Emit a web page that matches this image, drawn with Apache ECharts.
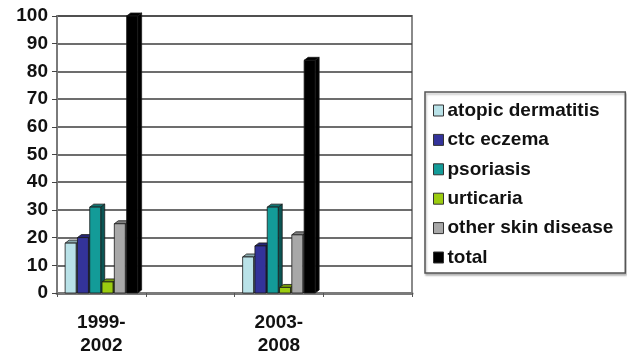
<!DOCTYPE html>
<html>
<head>
<meta charset="utf-8">
<style>
  html, body { margin: 0; padding: 0; background: #fff; }
  #chart { width: 627px; height: 353px; }
</style>
<script src="https://cdn.jsdelivr.net/npm/echarts@6/dist/echarts.min.js"></script>
</head>
<body>
<div id="chart"></div>
<script>
// Study periods; each is followed by an empty slot on the category axis
const periods = ['1999-2002', '2003-2008'];

// Series names and values per period
const seriesNames = ['atopic dermatitis', 'ctc eczema', 'psoriasis', 'urticaria', 'other skin disease', 'total'];
const atopicDermatitis = [18, 13];
const ctcEczema = [20, 17];
const psoriasis = [31, 31];
const urticaria = [4, 2];
const otherSkinDisease = [25, 21];
const total = [100, 84];

const yTicks = [0, 10, 20, 30, 40, 50, 60, 70, 80, 90, 100];

const seriesValues = [atopicDermatitis, ctcEczema, psoriasis, urticaria, otherSkinDisease, total];
const colors = ['#b9e2e8', '#33339a', '#139b98', '#9bcc10', '#a8a8a8', '#000000'];

// Category axis: period, blank, period, blank
const axisCategories = [];
periods.forEach(p => { axisCategories.push(p); axisCategories.push(''); });

function shade(hex, f) {
  const n = parseInt(hex.slice(1), 16);
  const r = Math.round(((n >> 16) & 255) * f);
  const g = Math.round(((n >> 8) & 255) * f);
  const b = Math.round((n & 255) * f);
  return 'rgb(' + r + ',' + g + ',' + b + ')';
}

const STEP = 12.3, W = 11, DX = 4, DY = 3;
const FONT = 'Liberation Sans, Arial, sans-serif';

// Column with a shallow side and top face
function make3dRenderer(idx, color) {
  return function (params, api) {
    const cat = api.value(0), val = api.value(1);
    const base = api.coord([cat, 0]);
    const top = api.coord([cat, val]);
    const x0 = base[0] + (idx - 2.5) * STEP - W / 2;
    const x1 = x0 + W;
    const yb = base[1], yt = top[1];
    const edge = { stroke: '#1a1a1a', lineWidth: 0.8 };
    return {
      type: 'group',
      children: [
        { type: 'polygon', shape: { points: [[x1, yb], [x1 + DX, yb - DY], [x1 + DX, yt - DY], [x1, yt]] },
          style: Object.assign({ fill: shade(color, 0.55) }, edge) },
        { type: 'polygon', shape: { points: [[x0, yt], [x0 + DX, yt - DY], [x1 + DX, yt - DY], [x1, yt]] },
          style: Object.assign({ fill: shade(color, 0.75) }, edge) },
        { type: 'rect', shape: { x: x0, y: yt, width: W, height: yb - yt },
          style: Object.assign({ fill: color }, edge) }
      ]
    };
  };
}

const series = seriesNames.map((name, i) => ({
  name: name,
  type: 'custom',
  renderItem: make3dRenderer(i, colors[i]),
  itemStyle: { color: colors[i], borderColor: '#222', borderWidth: 1 },
  encode: { x: 0, y: 1 },
  data: seriesValues[i].map((v, k) => [k * 2, v]),
  z: 2 + i
}));

const chart = echarts.init(document.getElementById('chart'));
chart.setOption({
  animation: false,
  backgroundColor: '#ffffff',
  grid: {
    left: 57, right: 215, top: 16, bottom: 60,
    outerBoundsMode: 'none', containLabel: false,
    show: true, borderColor: '#8a8a8a', borderWidth: 2, backgroundColor: 'transparent'
  },
  legend: {
    orient: 'vertical',
    left: 425,
    top: 92,
    padding: [9, 12, 6, 8],
    itemGap: 10.4,
    itemWidth: 10,
    itemHeight: 11,
    icon: 'rect',
    borderColor: '#555',
    borderWidth: 1.5,
    shadowColor: 'rgba(0,0,0,0.25)',
    shadowOffsetX: 1, shadowOffsetY: 2, shadowBlur: 2,
    backgroundColor: '#fff',
    textStyle: { fontFamily: FONT, fontWeight: 'bold', fontSize: 19, lineHeight: 18, color: '#111', padding: [0, 0, 0, -1] },
    data: seriesNames.map((n, i) => ({ name: n, itemStyle: { color: colors[i], borderColor: '#333', borderWidth: 1 } }))
  },
  xAxis: {
    type: 'category',
    data: axisCategories,
    boundaryGap: true,
    axisLine: { lineStyle: { color: '#7a7a7a', width: 3 } },
    axisTick: { show: true, alignWithLabel: false, length: 4, lineStyle: { color: '#555' } },
    axisLabel: {
      interval: 0,
      margin: 18,
      lineHeight: 23,
      fontFamily: FONT,
      fontWeight: 'bold',
      fontSize: 19,
      color: '#111',
      formatter: v => v.replace('-', '-\n')
    },
    splitLine: { show: false }
  },
  yAxis: {
    type: 'value',
    min: yTicks[0],
    max: yTicks[yTicks.length - 1],
    interval: 10,
    axisLine: { show: true, lineStyle: { color: '#7a7a7a', width: 2 } },
    axisTick: { show: true, length: 5, lineStyle: { color: '#444' } },
    axisLabel: {
      margin: 9,
      fontFamily: FONT,
      fontWeight: 'bold',
      fontSize: 19,
      color: '#111'
    },
    splitLine: { show: true, lineStyle: { color: '#3c3c3c', width: 1.5 } }
  },
  series: series
});
</script>
</body>
</html>
